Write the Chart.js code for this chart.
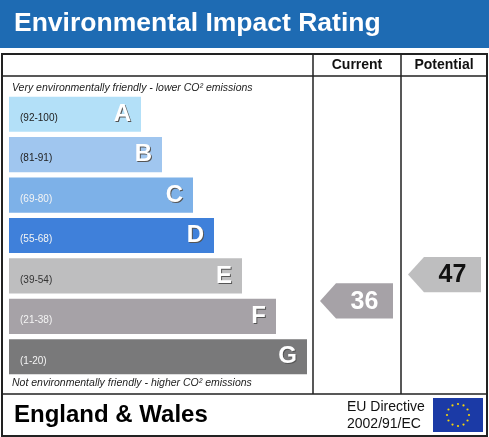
<!DOCTYPE html>
<html><head><meta charset="utf-8">
<script src="https://cdn.jsdelivr.net/npm/chart.js@4"></script>
<style>html,body{margin:0;padding:0;background:#fff}#w{width:489px;height:437px}</style>
</head><body><div id="w"><canvas id="c"></canvas></div>
<script>
const bands = ['A','B','C','D','E','F','G'];
const ranges = ['(92-100)','(81-91)','(69-80)','(55-68)','(39-54)','(21-38)','(1-20)'];
const rangeLow = [92,81,69,55,39,21,1];
const rangeHigh = [100,91,80,68,54,38,20];
const barLengths = [132,153,184,205,233,267,298];
const colors = ['#b3e0f8','#a0c6ef','#7db1e8','#3f80da','#bebebf','#a6a2a7','#79797a'];
const rangeTextColors = ['#222','#222','#f4f4f4','#f4f4f4','#333','#f4f4f4','#f4f4f4'];
const currentRating = 36, currentBand = 'F';
const potentialRating = 47, potentialBand = 'E';

const frame = {
  id:'frame',
  beforeDraw(ch){
    const c=ch.ctx;
    c.save();
    c.fillStyle='#fff';c.fillRect(0,0,489,437);
    c.fillStyle='#1e6bb3';c.fillRect(0,0,489,48);
    c.fillStyle='#fff';c.font='bold 26.5px "Liberation Sans", Arial';c.textBaseline='middle';
    c.fillText('Environmental Impact Rating',14,24);
    c.strokeStyle='#222';c.lineWidth=2;
    c.strokeRect(2,54,485,382);
    c.lineWidth=1.5;
    c.beginPath();
    c.moveTo(2,76);c.lineTo(487,76);
    c.moveTo(313,54);c.lineTo(313,394);
    c.moveTo(401,54);c.lineTo(401,394);
    c.moveTo(2,394);c.lineTo(487,394);
    c.stroke();
    c.fillStyle='#111';c.font='bold 14px "Liberation Sans", Arial';c.textAlign='center';
    c.fillText('Current',357,65);c.fillText('Potential',444,65);
    c.textAlign='left';c.font='italic 10.5px "Liberation Sans", Arial';c.fillStyle='#222';
    c.fillText('Very environmentally friendly - lower CO² emissions',12,88);
    c.fillText('Not environmentally friendly - higher CO² emissions',12,383);
    c.font='bold 24px "Liberation Sans", Arial';c.fillStyle='#000';
    c.fillText('England & Wales',14,415);
    c.font='14px "Liberation Sans", Arial';c.fillStyle='#111';
    c.fillText('EU Directive',347,407);c.fillText('2002/91/EC',347,424);
    c.fillStyle='#1b3aa6';c.fillRect(433,398,50,34);
    c.fillStyle='#f5d40a';
    for(let i=0;i<12;i++){const a=i*Math.PI/6;c.beginPath();c.arc(458+11*Math.cos(a),415+11*Math.sin(a),1.1,0,7);c.fill();}
    c.restore();
  },
  afterDatasetsDraw(ch){
    const c=ch.ctx, meta=ch.getDatasetMeta(0), ys=ch.scales.y;
    c.save();c.textBaseline='middle';
    meta.data.forEach((b,i)=>{
      c.font='10px "Liberation Sans", Arial';c.fillStyle=rangeTextColors[i];c.textAlign='left';
      c.fillText(ranges[i],20,b.y+4);
      c.font='bold 24px "Liberation Sans", Arial';c.textAlign='right';
      c.fillStyle='#555';c.fillText(bands[i],b.x-9,b.y+1);
      c.fillStyle='#fff';c.fillText(bands[i],b.x-10,b.y);
    });
    function arrow(val,band,x0,x1,col,tcol){
      const bi=bands.indexOf(band);
      const step=ys.getPixelForValue(1)-ys.getPixelForValue(0);
      const mid=(rangeLow[bi]+rangeHigh[bi])/2, span=rangeHigh[bi]-rangeLow[bi];
      const y=ys.getPixelForValue(bi)-(val-mid)/span*step,h=meta.data[0].height/2;
      c.fillStyle=col;c.beginPath();
      c.moveTo(x0,y);c.lineTo(x0+16,y-h);c.lineTo(x1,y-h);c.lineTo(x1,y+h);c.lineTo(x0+16,y+h);c.closePath();c.fill();
      c.fillStyle=tcol;c.font='bold 25px "Liberation Sans", Arial';c.textAlign='center';
      c.fillText(String(val),(x0+x1)/2+8,y+1);
    }
    arrow(currentRating,currentBand,320,393,colors[5],'#fff');
    arrow(potentialRating,potentialBand,408,481,colors[4],'#111');
    c.restore();
  }
};

new Chart(document.getElementById('c'),{
  type:'bar',
  data:{labels:bands,datasets:[{data:barLengths,backgroundColor:colors,borderWidth:0,barPercentage:0.87,categoryPercentage:1}]},
  options:{
    indexAxis:'y',responsive:true,maintainAspectRatio:false,animation:false,
    layout:{padding:{left:9,right:180,top:94,bottom:60}},
    scales:{x:{display:false,min:0,max:300},y:{display:false}},
    plugins:{legend:{display:false},tooltip:{enabled:false}}
  },
  plugins:[frame]
});
</script></body></html>
